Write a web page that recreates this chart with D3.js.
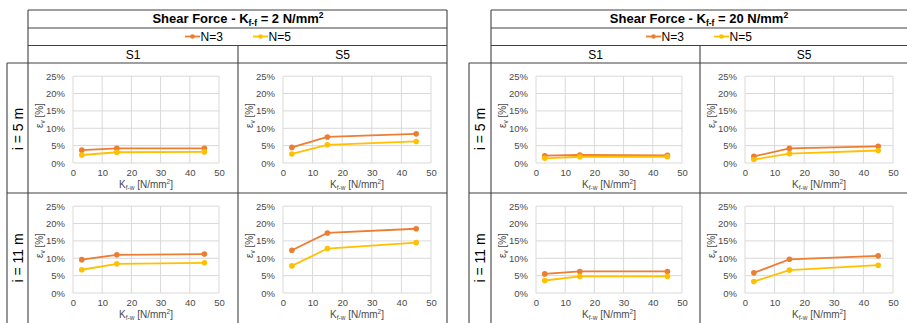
<!DOCTYPE html>
<html>
<head>
<meta charset="utf-8">
<script src="https://cdn.jsdelivr.net/npm/d3@7"></script>
<style>
  html, body { margin: 0; padding: 0; background: #fff; }
  svg { display: block; font-family: "Liberation Sans", Arial, sans-serif; }
</style>
</head>
<body>
<svg id="chart" width="907" height="323"></svg>
<script>
// Stiffness of the flange-web connection on the x axis
const kfw = [3, 15, 45];
const xTicks = [0, 10, 20, 30, 40, 50];
const yTicks = [0, 5, 10, 15, 20, 25];

// Table headers
const kff = [2, 20];
const sections = ["S1", "S5"];
const heights = ["i = 5 m", "i = 11 m"];
const seriesNames = ["N=3", "N=5"];
const seriesColors = ["#ED7D31", "#FFC000"];

// Shear force deviation ε_v [%], panels ordered: i=5 S1, i=5 S5, i=11 S1, i=11 S5
const kff2_N3 = [[3.7, 4.2, 4.2], [4.5, 7.5, 8.4], [9.6, 11.0, 11.2], [12.3, 17.3, 18.5]];
const kff2_N5 = [[2.3, 3.1, 3.2], [2.6, 5.25, 6.2], [6.7, 8.4, 8.7], [7.8, 12.8, 14.5]];
const kff20_N3 = [[2.1, 2.3, 2.2], [1.9, 4.2, 4.8], [5.5, 6.2, 6.2], [5.8, 9.7, 10.7]];
const kff20_N5 = [[1.35, 1.8, 1.8], [1.0, 2.7, 3.6], [3.6, 4.8, 4.8], [3.3, 6.6, 8.0]];

const blockData = [[kff2_N3, kff2_N5], [kff20_N3, kff20_N5]];

const svg = d3.select("#chart");
const ink = "#404040";
const tickColor = "#4a4a4a";
const gridColor = "#d9d9d9";

// Table geometry for each block
const blocks = [
  { left: 28, mid: 238, right: 447, rowHead: 7, center: 238 },
  { left: 491, mid: 700, right: 908, rowHead: 469, center: 699 }
];
const yTop = 10, yTitle = 28, yLegend = 45.5, yHead = 63, yRow = 193, yBottom = 330;
const rowTops = [yHead, yRow];

function line(g, x1, y1, x2, y2) {
  g.append("line").attr("x1", x1).attr("y1", y1).attr("x2", x2).attr("y2", y2)
    .attr("stroke", ink).attr("stroke-width", 1.1);
}

blocks.forEach((b, bi) => {
  const g = svg.append("g");

  // Table frame
  line(g, b.left, yTop, b.right, yTop);
  line(g, b.left, yTitle, b.right, yTitle);
  line(g, b.left, yLegend, b.right, yLegend);
  line(g, b.rowHead, yHead, b.right, yHead);
  line(g, b.rowHead, yRow, b.right, yRow);
  line(g, b.left, yTop, b.left, yBottom);
  line(g, b.right, yTop, b.right, yBottom);
  line(g, b.rowHead, yHead, b.rowHead, yBottom);
  line(g, b.mid, yLegend, b.mid, yBottom);

  // Title
  const t = g.append("text").attr("x", b.center).attr("y", 23)
    .attr("text-anchor", "middle").attr("font-size", 13).attr("font-weight", "bold").attr("fill", "#000");
  t.append("tspan").text("Shear Force - K");
  t.append("tspan").attr("font-size", 8.5).attr("dy", 3).text("f-f");
  t.append("tspan").attr("dy", -3).text(` = ${kff[bi]} N/mm`);
  t.append("tspan").attr("font-size", 8.5).attr("dy", -5).text("2");

  // Legend
  const legX = [b.center - 53, b.center + 15];
  seriesNames.forEach((name, si) => {
    const lx = legX[si], ly = 36.5;
    g.append("line").attr("x1", lx).attr("x2", lx + 15).attr("y1", ly).attr("y2", ly)
      .attr("stroke", seriesColors[si]).attr("stroke-width", 1.8);
    g.append("circle").attr("cx", lx + 7.5).attr("cy", ly).attr("r", 2.3).attr("fill", seriesColors[si]);
    g.append("text").attr("x", lx + 15.5).attr("y", ly + 4.3).attr("font-size", 12).attr("fill", "#000").text(name);
  });

  // Column headers
  const colLefts = [b.left, b.mid];
  const colRights = [b.mid, b.right];
  sections.forEach((s, ci) => {
    g.append("text").attr("x", (colLefts[ci] + colRights[ci]) / 2).attr("y", 58.5)
      .attr("text-anchor", "middle").attr("font-size", 12).attr("fill", "#000").text(s);
  });

  // Row headers
  heights.forEach((h, ri) => {
    const cy = ri === 0 ? 129 : 258;
    g.append("text").attr("transform", `translate(${(b.rowHead + b.left) / 2 + 5},${cy}) rotate(-90)`)
      .attr("text-anchor", "middle").attr("font-size", 14).attr("fill", "#000").text(h);
  });

  // Panels
  heights.forEach((h, ri) => {
    sections.forEach((s, ci) => {
      const px0 = colLefts[ci] + 45;
      const pw = ci === 0 ? 146 : 148;
      const py0 = rowTops[ri] + 13.2;
      const ph = 86.8;
      const x = d3.scaleLinear().domain([0, 50]).range([px0, px0 + pw]);
      const y = d3.scaleLinear().domain([0, 25]).range([py0 + ph, py0]);
      const pg = g.append("g");

      // Gridlines
      pg.append("g").selectAll("line").data(yTicks).join("line")
        .attr("x1", x(0)).attr("x2", x(50)).attr("y1", d => y(d)).attr("y2", d => y(d))
        .attr("stroke", gridColor).attr("stroke-width", 1);
      pg.append("g").selectAll("line").data(xTicks).join("line")
        .attr("y1", y(0)).attr("y2", y(25)).attr("x1", d => x(d)).attr("x2", d => x(d))
        .attr("stroke", gridColor).attr("stroke-width", 1);

      // Axes (labels only)
      const ya = pg.append("g").attr("transform", `translate(${x(0)},0)`)
        .call(d3.axisLeft(y).tickValues(yTicks).tickSize(0).tickPadding(8).tickFormat(d => d + "%"));
      const xa = pg.append("g").attr("transform", `translate(0,${y(0)})`)
        .call(d3.axisBottom(x).tickValues(xTicks).tickSize(0).tickPadding(6).tickFormat(d3.format("d")));
      [ya, xa].forEach(a => {
        a.select(".domain").remove();
        a.selectAll("text").attr("font-size", 9.5).attr("fill", tickColor)
          .attr("font-family", "'Liberation Sans', Arial, sans-serif");
      });

      // Axis titles
      const xt = pg.append("text").attr("x", x(25)).attr("y", y(0) + 24.5)
        .attr("text-anchor", "middle").attr("font-size", 10).attr("fill", tickColor);
      xt.append("tspan").text("K");
      xt.append("tspan").attr("font-size", 6.5).attr("dy", 2).text("f-w");
      xt.append("tspan").attr("dy", -2).text(" [N/mm");
      xt.append("tspan").attr("font-size", 6.5).attr("dy", -4).text("2");
      xt.append("tspan").attr("dy", 4).text("]");

      const yt = pg.append("text")
        .attr("transform", `translate(${x(0) - 30},${(y(0) + y(25)) / 2 - 4}) rotate(-90)`)
        .attr("text-anchor", "middle").attr("font-size", 10).attr("fill", tickColor);
      yt.append("tspan").text("ε");
      yt.append("tspan").attr("font-size", 6.5).attr("dy", 2).text("v");
      yt.append("tspan").attr("dy", -2).text(" [%]");

      // Series
      const idx = ri * 2 + ci;
      blockData[bi].forEach((series, si) => {
        const vals = series[idx];
        const pts = kfw.map((k, i) => [k, vals[i]]);
        pg.append("path").datum(pts)
          .attr("d", d3.line().x(d => x(d[0])).y(d => y(d[1])))
          .attr("fill", "none").attr("stroke", seriesColors[si]).attr("stroke-width", 1.8);
        pg.append("g").selectAll("circle").data(pts).join("circle")
          .attr("cx", d => x(d[0])).attr("cy", d => y(d[1])).attr("r", 2.8)
          .attr("fill", seriesColors[si]);
      });
    });
  });
});
</script>
</body>
</html>
